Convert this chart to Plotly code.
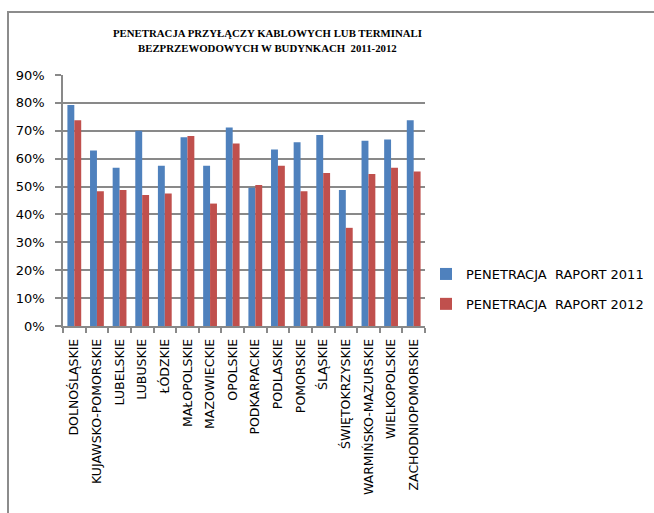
import plotly.graph_objects as go

# Voivodeships and penetration shares (%) for the two reports
regions = [
    "DOLNOŚLĄSKIE", "KUJAWSKO-POMORSKIE", "LUBELSKIE", "LUBUSKIE", "ŁÓDZKIE",
    "MAŁOPOLSKIE", "MAZOWIECKIE", "OPOLSKIE", "PODKARPACKIE", "PODLASKIE",
    "POMORSKIE", "ŚLĄSKIE", "ŚWIĘTOKRZYSKIE", "WARMIŃSKO-MAZURSKIE",
    "WIELKOPOLSKIE", "ZACHODNIOPOMORSKIE",
]
raport_2011 = [79.2, 62.9, 56.7, 70.0, 57.5, 67.7, 57.5, 71.2,
               49.6, 63.3, 65.9, 68.5, 48.8, 66.4, 66.9, 73.8]
raport_2012 = [73.8, 48.3, 48.8, 47.0, 47.5, 68.1, 43.9, 65.4,
               50.6, 57.5, 48.3, 54.9, 35.2, 54.5, 56.7, 55.4]
series_names = ["PENETRACJA\u00a0 RAPORT 2011", "PENETRACJA\u00a0 RAPORT 2012"]
y_ticks = [0, 10, 20, 30, 40, 50, 60, 70, 80, 90]
y_tick_labels = [f"{v}%" for v in y_ticks]

title_lines = ["PENETRACJA PRZYŁĄCZY KABLOWYCH LUB TERMINALI",
               "BEZPRZEWODOWYCH W BUDYNKACH  2011-2012"]

W, H = 654, 513
# plot area in pixels
PL, PR, PT, PB = 63, 425, 75, 326
GRID = "#898989"
SANS = "DejaVu Sans, sans-serif"


def px_x(x):
    return (x - PL) / (PR - PL)


def px_y(y):
    return (PB - y) / (PB - PT)


fig = go.Figure()
fig.add_trace(go.Bar(x=regions, y=raport_2011, name=series_names[0],
                     marker=dict(color="#4F81BD", line=dict(width=0)),
                     legendgroup="a"))
fig.add_trace(go.Bar(x=regions, y=raport_2012, name=series_names[1],
                     marker=dict(color="#C0504D", line=dict(width=0)),
                     legendgroup="b"))

fig.update_layout(
    width=W, height=H,
    margin=dict(l=PL, r=W - PR, t=PT, b=H - PB, pad=0, autoexpand=False),
    paper_bgcolor="white", plot_bgcolor="white",
    barmode="group", bargap=0.39, bargroupgap=0.0,
    font=dict(family=SANS, color="#000000", size=12),
    showlegend=True,
    legend=dict(x=px_x(426), xanchor="left", y=px_y(289), yanchor="middle",
                font=dict(size=13, family=SANS), tracegroupgap=10,
                itemwidth=30,
                bgcolor="rgba(0,0,0,0)"),
)

fig.update_yaxes(
    range=[0, 90], tickvals=y_ticks, ticktext=y_tick_labels,
    showgrid=True, gridcolor=GRID, gridwidth=1.5,
    showline=True, linecolor=GRID, linewidth=1.5,
    ticks="outside", ticklen=6, tickcolor=GRID, tickwidth=1.5,
    ticklabelstandoff=8,
    zeroline=False, tickfont=dict(size=13, family=SANS),
    fixedrange=True,
)
fig.update_xaxes(
    type="category", tickangle=-90,
    showline=True, linecolor=GRID, linewidth=1.5,
    ticks="outside", tickson="boundaries", ticklen=5,
    tickcolor=GRID, tickwidth=1.5, ticklabelstandoff=6,
    showgrid=False, tickfont=dict(size=12.5, family=SANS),
)

# Title in two lines
for i, line in enumerate(title_lines):
    fig.add_annotation(
        text=f"<b>{line}</b>", xref="paper", yref="paper",
        x=px_x(267), y=px_y(33 + 15 * i), xanchor="center", yanchor="middle",
        showarrow=False,
        font=dict(family="Liberation Serif, Times New Roman, serif",
                  size=10.8, color="#000000"),
    )

# Chart frame (top and left edges)
fig.add_shape(type="line", xref="paper", yref="paper",
              x0=px_x(7), x1=px_x(W + 2), y0=px_y(12), y1=px_y(12),
              line=dict(color="#8C8C8C", width=2))
fig.add_shape(type="line", xref="paper", yref="paper",
              x0=px_x(8), x1=px_x(8), y0=px_y(12), y1=px_y(H + 2),
              line=dict(color="#8C8C8C", width=2))

fig.write_html("out.html")
